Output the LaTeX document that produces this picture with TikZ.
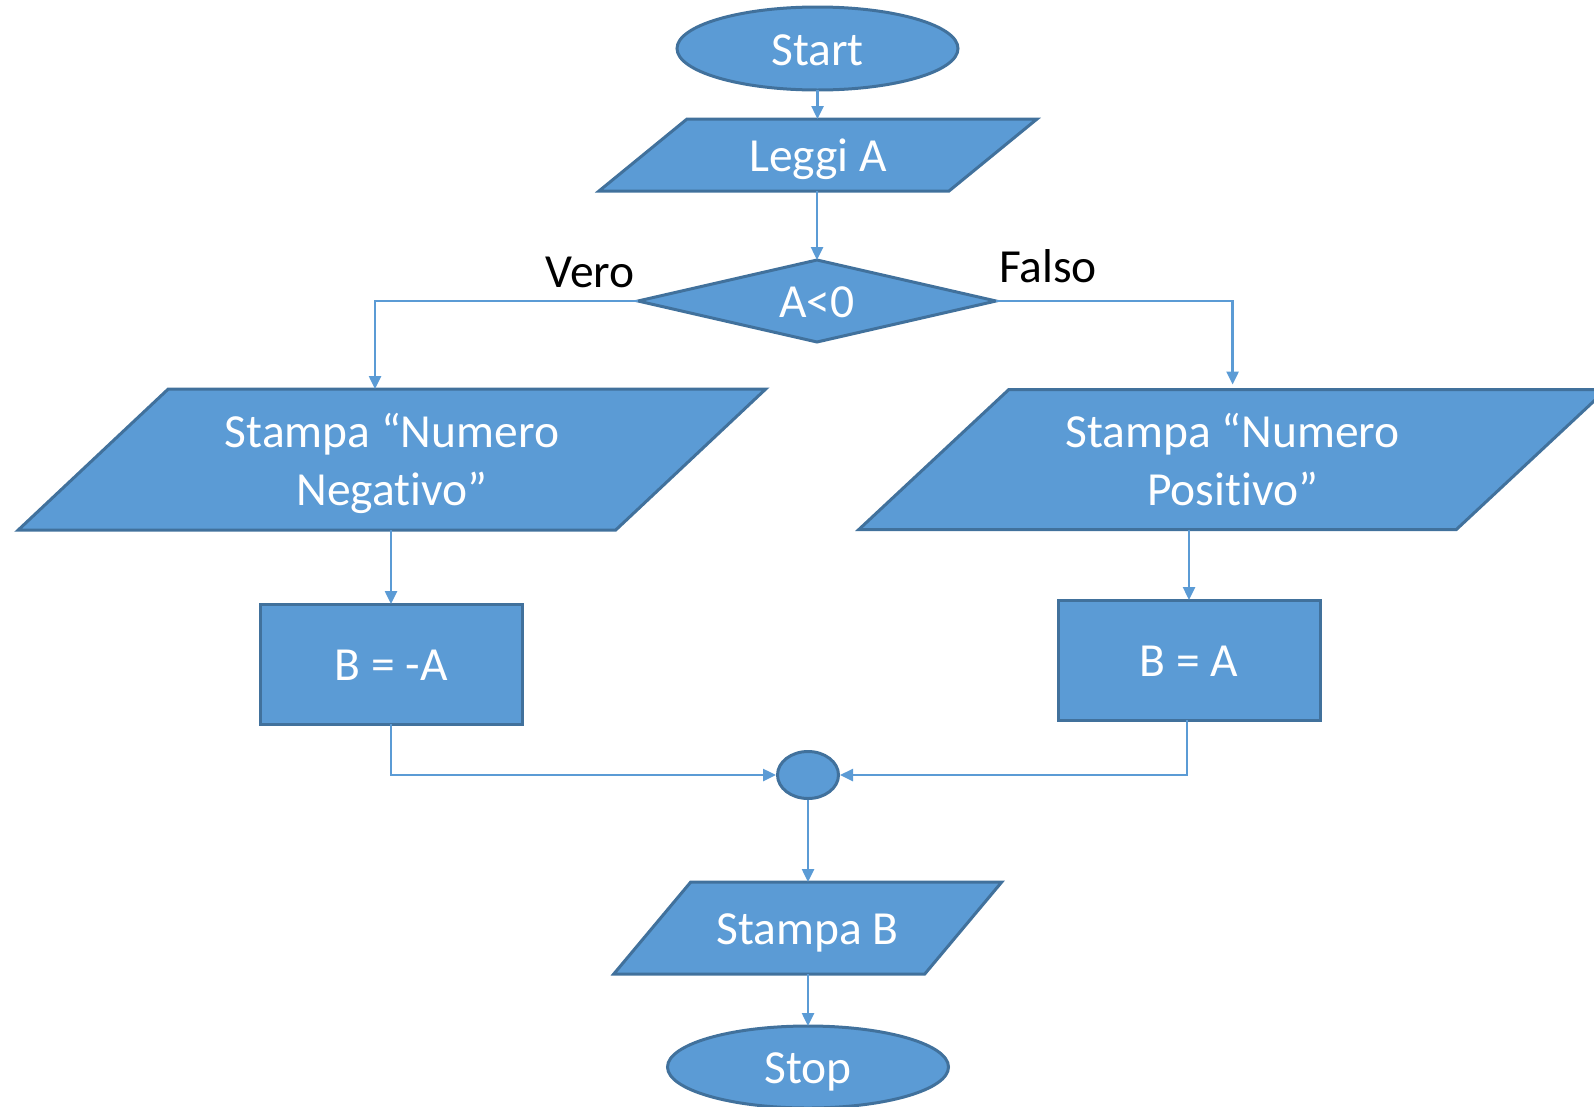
\documentclass[tikz,border=0pt]{standalone}
\usepackage{fontspec}
\setmainfont{Carlito}[Ligatures=NoCommon]
\usetikzlibrary{shapes.geometric,arrows.meta}

\definecolor{fillblue}{HTML}{5B9BD5}
\definecolor{edgeblue}{HTML}{41719C}
\definecolor{lineblue}{HTML}{5B9BD5}

\tikzset{
  flow/.style={draw=edgeblue, line width=3pt, fill=fillblue},
  lbl/.style={text=white, font=\fontsize{47.5}{58}\selectfont, inner sep=0pt, outer sep=0pt,
              align=center, text height=44pt, text depth=11pt},
  twolines/.style={text height=91pt, text depth=0pt},
  terminal/.style={flow, lbl, ellipse},
  procbox/.style={flow, lbl, rectangle},
  conn/.style={draw=lineblue, line width=2.5pt, -{Triangle[length=13pt,width=12pt]}},
  branchlabel/.style={text=black, font=\fontsize{47.5}{58}\selectfont, inner sep=0pt, anchor=base},
}

% input/output block: name, centre x, centre y, half width, half height, half slant, text
\newcommand{\ioblock}[8][]{%
  \path[flow] ({#3-#5+#7},{#4-#6}) -- ({#3+#5+#7},{#4-#6})
              -- ({#3+#5-#7},{#4+#6}) -- ({#3-#5-#7},{#4+#6}) -- cycle;
  \node[lbl, minimum width={2*#5}, minimum height={2*#6}, #1] (#2) at (#3,#4) {#8};
}

\begin{document}
\begin{tikzpicture}[x=1pt,y=-1pt]
  \useasboundingbox (0,0) rectangle (1594,1106);
  \clip (0,0) rectangle (1594,1106);

  % terminals
  \node[terminal, minimum width=281, minimum height=83] (start) at (817.5,48.5) {Start};
  \ioblock{leggi}{818}{155}{175}{36}{44}{Leggi A}

  % decision
  \path[flow] (817,260) -- (996,301) -- (817,342) -- (638,301) -- cycle;
  \node[lbl, minimum width=358, minimum height=82] (dec) at (817,301) {A<0};

  % branches
  \ioblock[twolines]{neg}{392}{459.5}{298.75}{70.5}{75}{Stampa “Numero\\Negativo”}
  \ioblock[twolines]{pos}{1232.6}{459.5}{298.75}{70}{75}{Stampa “Numero\\Positivo”}
  \node[procbox, minimum width=262, minimum height=120] (negB) at (391,664) {B = -A};
  \node[procbox, minimum width=262, minimum height=120] (posB) at (1189,660) {B = A};

  % join point and output
  \node[flow, ellipse, minimum width=61, minimum height=47, inner sep=0pt] (join) at (808,775) {};
  \ioblock{outB}{807.75}{928}{155.5}{46}{38.5}{Stampa B}
  \node[terminal, minimum width=281, minimum height=82] (stop) at (808,1067) {Stop};

  % connectors
  \draw[conn] (start.south) -- (start.south |- leggi.north);
  \draw[conn] (dec.north |- leggi.south) -- (dec.north);
  \draw[conn] (dec.west) -| ([xshift=-17pt]neg.north);
  \draw[conn] (dec.east) -| ([yshift=5pt]pos.north);
  \draw[conn] (negB.north |- neg.south) -- (negB.north);
  \draw[conn] (posB.north |- pos.south) -- (posB.north);
  \draw[conn] (negB.south) |- (join.west);
  \draw[conn] ([xshift=-2pt]posB.south) |- (join.east);
  \draw[conn] (join.south) -- (join.south |- outB.north);
  \draw[conn] (stop.north |- outB.south) -- (stop.north);

  % branch labels
  \node[branchlabel] (vero) at (590,287) {Vero};
  \node[branchlabel] (falso) at (1048,282) {Falso};
\end{tikzpicture}
\end{document}
